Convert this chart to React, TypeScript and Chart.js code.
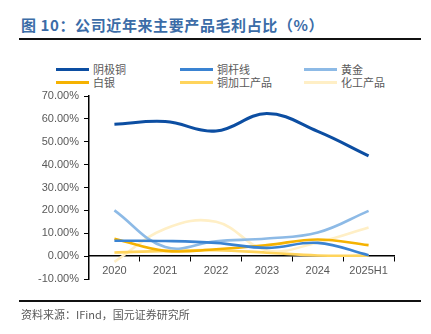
import React, { useEffect, useRef } from 'react';
import { Chart, registerables } from 'chart.js';

Chart.register(...registerables);

const categories = ['2020', '2021', '2022', '2023', '2024', '2025H1'];
const seriesNames = ['阴极铜', '铜杆线', '黄金', '白银', '铜加工产品', '化工产品'];
const cathodeCopper = [57.6, 58.8, 54.7, 62.3, 54.5, 43.8];
const copperRod = [6.7, 6.6, 5.8, 3.6, 5.8, 0.4];
const gold = [20.0, 4.0, 6.5, 7.7, 10.3, 19.8];
const silver = [7.6, 2.3, 3.0, 4.8, 7.3, 4.8];
const copperProducts = [1.6, 2.3, 2.6, 1.5, 0.3, 0.2];
const chemicals = [-2.5, 12.0, 15.0, 2.5, 6.0, 12.5];
const yMin = -10;
const yMax = 70;
const yStep = 10;

const seriesColors = ['#0c4ea2', '#3a83d2', '#8dbae6', '#f5b201', '#ffd45c', '#ffefc6'];
const seriesValues = [cathodeCopper, copperRod, gold, silver, copperProducts, chemicals];

const labelFont = '"Liberation Sans", Arial, sans-serif';
const cjkFont = '"Noto Sans CJK SC", "Noto Sans", sans-serif';

export default function App() {
  const canvasRef = useRef<HTMLCanvasElement | null>(null);

  useEffect(() => {
    if (!canvasRef.current) return;
    const chart = new Chart(canvasRef.current, {
      type: 'line',
      data: {
        labels: categories,
        datasets: seriesNames.map((name, i) => ({
          label: name,
          data: seriesValues[i],
          borderColor: seriesColors[i],
          backgroundColor: seriesColors[i],
          borderWidth: i === 0 ? 3 : 2.6,
          pointRadius: 0,
          pointHoverRadius: 0,
          tension: 0.4,
          fill: false,
        })),
      },
      options: {
        animation: false,
        responsive: false,
        maintainAspectRatio: false,
        layout: { padding: { top: 16, bottom: 31, right: 37, left: 0 } },
        plugins: {
          legend: { display: false },
          tooltip: { enabled: false },
        },
        scales: {
          x: {
            type: 'category',
            position: { y: 0 },
            offset: true,
            grid: {
              display: true,
              drawOnChartArea: false,
              drawTicks: true,
              tickLength: 5,
              offset: true,
              color: '#000',
              lineWidth: 1,
            },
            border: { display: true, color: '#000', width: 1.5 },
            ticks: {
              color: '#595959',
              font: { family: labelFont, size: 11 },
              padding: 3,
              maxRotation: 0,
            },
          },
          y: {
            min: yMin,
            max: yMax,
            grid: {
              display: true,
              drawOnChartArea: false,
              drawTicks: true,
              tickLength: 5,
              color: '#000',
              lineWidth: 1,
            },
            border: { display: true, color: '#000', width: 1.5 },
            ticks: {
              stepSize: yStep,
              color: '#595959',
              font: { family: labelFont, size: 11 },
              padding: 5,
              callback: (v: any) => Number(v).toFixed(2) + '%',
            },
            afterFit: (scale: any) => {
              scale.width = 89;
            },
          },
        },
      },
    });
    return () => chart.destroy();
  }, []);

  const legendCols = [56, 180, 304];
  const legendRows = [69, 82];

  return (
    <div
      style={{
        position: 'absolute',
        left: 0,
        top: 0,
        width: 431,
        height: 334,
        background: '#fff',
        overflow: 'hidden',
      }}
    >
      <div
        style={{
          position: 'absolute',
          left: 21,
          top: 15,
          fontFamily: cjkFont,
          fontWeight: 700,
          fontSize: 15,
          lineHeight: '20px',
          letterSpacing: '0.6px',
          color: '#3b6ca7',
          whiteSpace: 'nowrap',
        }}
      >
        图 10：公司近年来主要产品毛利占比（%）
      </div>
      <div style={{ position: 'absolute', left: 19, top: 38, width: 402, height: 2, background: '#111' }} />

      {seriesNames.map((name, i) => {
        const col = i % 3;
        const row = Math.floor(i / 3);
        return (
          <div key={name}>
            <div
              style={{
                position: 'absolute',
                left: legendCols[col],
                top: legendRows[row] - 1.5,
                width: 33,
                height: 3,
                background: seriesColors[i],
              }}
            />
            <div
              style={{
                position: 'absolute',
                left: legendCols[col] + 37,
                top: legendRows[row] - 8,
                fontFamily: cjkFont,
                fontSize: 11,
                lineHeight: '16px',
                color: '#595959',
                whiteSpace: 'nowrap',
              }}
            >
              {name}
            </div>
          </div>
        );
      })}

      <canvas
        ref={canvasRef}
        width={431}
        height={230}
        style={{ position: 'absolute', left: 0, top: 80, width: 431, height: 230 }}
      />

      <div style={{ position: 'absolute', left: 19, top: 300, width: 402, height: 2, background: '#111' }} />
      <div
        style={{
          position: 'absolute',
          left: 21,
          top: 306,
          fontFamily: cjkFont,
          fontSize: 11,
          lineHeight: '16px',
          color: '#595959',
          whiteSpace: 'nowrap',
        }}
      >
        资料来源：IFind，国元证券研究所
      </div>
    </div>
  );
}
